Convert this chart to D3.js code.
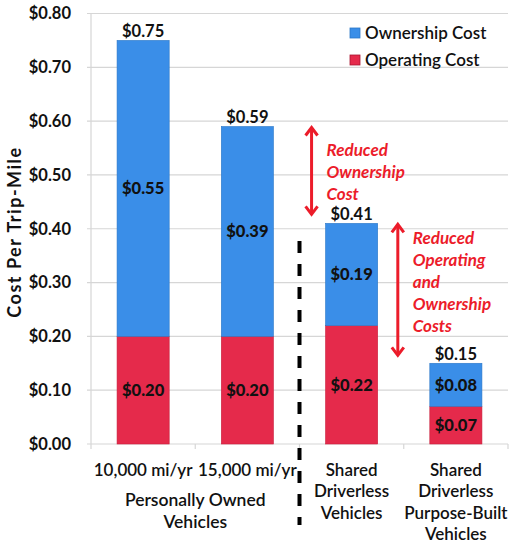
<!DOCTYPE html>
<html>
<head>
<meta charset="utf-8">
<script src="https://cdn.jsdelivr.net/npm/d3@7"></script>
<style>
  body { margin: 0; background: #fff; }
  text { font-family: Lato, "Open Sans", sans-serif; fill: #111; }
</style>
</head>
<body>
<div id="chart"></div>
<script>
// datos del gráfico
const categories = ["10,000 mi/yr", "15,000 mi/yr", "Shared Driverless Vehicles", "Shared Driverless Purpose-Built Vehicles"];
const labelLines = [["10,000 mi/yr"], ["15,000 mi/yr"], ["Shared", "Driverless", "Vehicles"], ["Shared", "Driverless", "Purpose-Built", "Vehicles"]];
const operating = [0.20, 0.20, 0.22, 0.07];
const ownership = [0.55, 0.39, 0.19, 0.08];
const yTicks = [0, 0.1, 0.2, 0.3, 0.4, 0.5, 0.6, 0.7, 0.8];
const groupLabel = ["Personally Owned", "Vehicles"];
const seriesNames = ["Ownership Cost", "Operating Cost"];
const annotations = [
    { cat: 2, dx: -14, from: 0.59, to: 0.425, lines: ["Reduced", "Ownership", "Cost"], text: 0.546 },
    { cat: 3, dx: -32, from: 0.41, to: 0.163, lines: ["Reduced", "Operating", "and", "Ownership", "Costs"], text: 0.382 }
];

const W = 515, H = 546;
const margin = { top: 13.5, right: 7, bottom: 102, left: 91 };
const blue = "#3a8ee8", red = "#e52a4b", annoRed = "#ec1c2a";

const svg = d3.select("#chart").append("svg")
    .attr("width", W).attr("height", H);

const x = d3.scaleBand().domain(categories)
    .range([margin.left, W - margin.right])
    .paddingInner(0.5).paddingOuter(0.25);
const y = d3.scaleLinear().domain([0, 0.8]).range([H - margin.bottom, margin.top]);
const step = x.step();

// rejilla
svg.append("g").selectAll("line").data(yTicks).enter().append("line")
    .attr("x1", margin.left - 4).attr("x2", W - margin.right)
    .attr("y1", d => y(d)).attr("y2", d => y(d))
    .attr("stroke", "#d6d6d6").attr("stroke-width", 1.2);

svg.append("line")
    .attr("x1", margin.left).attr("x2", margin.left)
    .attr("y1", y(0.8)).attr("y2", y(0))
    .attr("stroke", "#d6d6d6").attr("stroke-width", 1.2);

// marcas del eje x
svg.append("g").selectAll("line").data(d3.range(categories.length + 1)).enter().append("line")
    .attr("x1", i => margin.left + i * step).attr("x2", i => margin.left + i * step)
    .attr("y1", y(0)).attr("y2", y(0) + 5)
    .attr("stroke", "#d6d6d6").attr("stroke-width", 1.2);

// etiquetas del eje y
svg.append("g").selectAll("text").data(yTicks).enter().append("text")
    .attr("x", 71).attr("y", d => y(d)).attr("dy", "0.35em")
    .attr("text-anchor", "end")
    .style("font-size", "16.5px").style("font-weight", "bold")
    .text(d => "$" + d.toFixed(2));

svg.append("text")
    .attr("transform", `translate(21,232) rotate(-90)`)
    .attr("text-anchor", "middle")
    .style("font-size", "18px").style("font-weight", "bold").style("letter-spacing", "1.5px")
    .text("Cost Per Trip-Mile");

// barras apiladas
const bars = svg.append("g").selectAll("g").data(categories).enter().append("g");

bars.append("rect")
    .attr("x", d => x(d)).attr("width", x.bandwidth())
    .attr("y", (d, i) => y(operating[i]))
    .attr("height", (d, i) => y(0) - y(operating[i]))
    .attr("fill", red).attr("stroke", "#c81f3c").attr("stroke-width", 0.6);

bars.append("rect")
    .attr("x", d => x(d)).attr("width", x.bandwidth())
    .attr("y", (d, i) => y(operating[i] + ownership[i]))
    .attr("height", (d, i) => y(operating[i]) - y(operating[i] + ownership[i]))
    .attr("fill", blue).attr("stroke", "#2b77c7").attr("stroke-width", 0.6);

// valores dentro de las barras
bars.append("text")
    .attr("x", d => x(d) + x.bandwidth() / 2)
    .attr("y", (d, i) => y(operating[i] / 2)).attr("dy", "0.35em")
    .attr("text-anchor", "middle")
    .style("font-size", "16.5px").style("font-weight", 900)
    .text((d, i) => "$" + operating[i].toFixed(2));

bars.append("text")
    .attr("x", d => x(d) + x.bandwidth() / 2)
    .attr("y", (d, i) => y(operating[i] + ownership[i] / 2)).attr("dy", "0.35em")
    .attr("text-anchor", "middle")
    .style("font-size", "16.5px").style("font-weight", 900)
    .text((d, i) => "$" + ownership[i].toFixed(2));

bars.append("text")
    .attr("x", d => x(d) + x.bandwidth() / 2)
    .attr("y", (d, i) => y(operating[i] + ownership[i]) - 9.5).attr("dy", "0.35em")
    .attr("text-anchor", "middle")
    .style("font-size", "16.5px").style("font-weight", "bold")
    .text((d, i) => "$" + (operating[i] + ownership[i]).toFixed(2));

// etiquetas de categoría
bars.each(function(d, i) {
    const g = d3.select(this);
    labelLines[i].forEach((line, k) => {
        g.append("text")
            .attr("x", x(d) + x.bandwidth() / 2)
            .attr("y", 470 + k * 21.5).attr("dy", "0.35em")
            .attr("text-anchor", "middle")
            .style("font-size", "17px").style("font-weight", 600)
            .text(line);
    });
});

groupLabel.forEach((line, k) => {
    svg.append("text")
        .attr("x", margin.left + step).attr("y", 500 + k * 22).attr("dy", "0.35em")
        .attr("text-anchor", "middle")
        .style("font-size", "17.5px").style("font-weight", 600)
        .text(line);
});

// línea discontinua separadora
svg.append("line")
    .attr("x1", margin.left + 2 * step).attr("x2", margin.left + 2 * step)
    .attr("y1", 241).attr("y2", 525)
    .attr("stroke", "#000").attr("stroke-width", 4)
    .attr("stroke-dasharray", "12,11");

// leyenda
const legend = svg.append("g").selectAll("g").data(seriesNames).enter().append("g")
    .attr("transform", (d, i) => `translate(350,${33 + i * 27})`);
legend.append("rect")
    .attr("x", 0).attr("y", -5).attr("width", 10).attr("height", 10)
    .attr("fill", (d, i) => i === 0 ? blue : red)
    .attr("stroke", (d, i) => i === 0 ? "#2b77c7" : "#a81530").attr("stroke-width", 0.8);
legend.append("text")
    .attr("x", 15).attr("y", 0).attr("dy", "0.35em")
    .style("font-size", "17px").style("font-weight", 600)
    .text(d => d);

// anotaciones con flechas
annotations.forEach(a => {
    const ax = x(categories[a.cat]) + a.dx;
    const y1 = y(a.from), y2 = y(a.to);
    const g = svg.append("g");
    g.append("line")
        .attr("x1", ax).attr("x2", ax).attr("y1", y1 + 2).attr("y2", y2 - 2)
        .attr("stroke", annoRed).attr("stroke-width", 3);
    g.append("path")
        .attr("d", `M${ax - 6},${y1 + 9} L${ax},${y1 + 1} L${ax + 6},${y1 + 9} M${ax - 6},${y2 - 9} L${ax},${y2 - 1} L${ax + 6},${y2 - 9}`)
        .attr("fill", "none").attr("stroke", annoRed).attr("stroke-width", 3);
    a.lines.forEach((line, k) => {
        g.append("text")
            .attr("x", ax + 15).attr("y", y(a.text) + k * 22).attr("dy", "0.35em")
            .style("font-size", "17px").style("font-weight", "bold").style("font-style", "italic")
            .style("fill", annoRed)
            .text(line);
    });
});
</script>
</body>
</html>
